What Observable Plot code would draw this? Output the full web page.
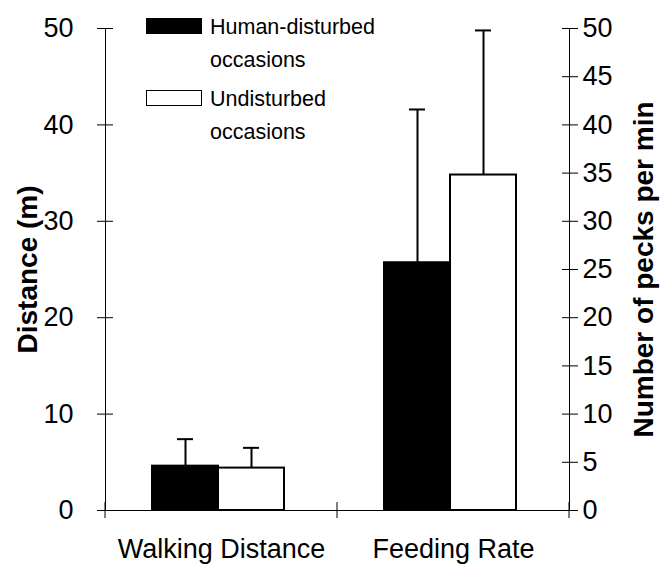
<!DOCTYPE html>
<html>
<head>
<meta charset="utf-8">
<script src="https://cdn.jsdelivr.net/npm/d3@7"></script>
<script src="https://cdn.jsdelivr.net/npm/@observablehq/plot@0.6"></script>
<style>
  html, body { margin: 0; padding: 0; background: #fff; }
  #wrap { position: relative; width: 667px; height: 565px; font-family: "Liberation Sans", Arial, sans-serif; }
  .legend { position: absolute; left: 146px; top: 11px; color: #000; font-size: 21.5px; line-height: 33px; }
  .item { display: flex; align-items: flex-start; margin-bottom: 6px; }
  .sw { width: 56px; height: 16px; margin-top: 7px; margin-right: 8px; box-sizing: border-box; border: 1.5px solid #000; }
</style>
</head>
<body>
<div id="wrap"></div>
<script>
const groups = ["Walking Distance", "Feeding Rate"];
const seriesNames = ["Human-disturbed occasions", "Undisturbed occasions"];
const seriesColors = ["#000000", "#ffffff"];
const humanMeans = [4.6, 25.7];
const humanUpper = [7.4, 41.6];
const undisturbedMeans = [4.4, 34.8];
const undisturbedUpper = [6.5, 49.8];
const leftTicks = [0, 10, 20, 30, 40, 50];
const rightTicks = [0, 5, 10, 15, 20, 25, 30, 35, 40, 45, 50];
const leftLabel = "Distance (m)";
const rightLabel = "Number of pecks per min";

const rows = [];
groups.forEach((g, i) => {
  rows.push({group: g, series: seriesNames[0], mean: humanMeans[i], upper: humanUpper[i]});
  rows.push({group: g, series: seriesNames[1], mean: undisturbedMeans[i], upper: undisturbedUpper[i]});
});

const font = "Liberation Sans, Arial, sans-serif";
const plot = Plot.plot({
  width: 667,
  height: 565,
  marginLeft: 104,
  marginRight: 98,
  marginTop: 28,
  marginBottom: 55,
  style: {fontFamily: font, fontSize: "27px", color: "#000", background: "#fff", overflow: "visible"},
  fx: {domain: groups, padding: 0, label: null},
  x: {domain: seriesNames, paddingInner: 0, paddingOuter: 0.735, align: 0.47, axis: null},
  y: {domain: [0, 50], label: null},
  color: {domain: seriesNames, range: seriesColors},
  marks: [
    Plot.axisFx({anchor: "bottom", tickSize: 0, tickPadding: 28, label: null, fontSize: 27}),
    Plot.axisY({anchor: "left", ticks: leftTicks, tickSize: 16, insetLeft: 8, tickPadding: 24, label: null, fontSize: 27, stroke: "#000"}),
    Plot.axisY({anchor: "left", ticks: [], tickSize: 0, label: leftLabel, labelArrow: "none", labelAnchor: "center", labelOffset: 88, fontSize: 28, fontWeight: "bold"}),
    Plot.axisY({anchor: "right", ticks: rightTicks, tickSize: 16, insetRight: 8, tickPadding: 5, label: null, fontSize: 27, stroke: "#000"}),
    Plot.axisY({anchor: "right", ticks: [], tickSize: 0, label: rightLabel, labelArrow: "none", labelAnchor: "center", labelOffset: 83, fontSize: 28, fontWeight: "bold"}),
    Plot.frame({anchor: "left", facetAnchor: "left", stroke: "#000"}),
    Plot.frame({anchor: "right", facetAnchor: "right", stroke: "#000"}),
    Plot.ruleY([0], {stroke: "#000"}),
    Plot.ruleX(rows, {fx: "group", x: "series", y1: "mean", y2: "upper", stroke: "#000", strokeWidth: 2}),
    Plot.tickY(rows, {fx: "group", x: "series", y: "upper", stroke: "#000", strokeWidth: 2, insetLeft: 25, insetRight: 25}),
    Plot.barY(rows, {fx: "group", x: "series", y: "mean", fill: "series", stroke: "#000", strokeWidth: 2})
  ]
});

// cross ticks on the x axis at the group boundaries, placed from Plot's own scales
const fx = plot.scale("fx");
const ys = plot.scale("y");
const svg = d3.select(plot.tagName.toLowerCase() === "svg" ? plot : plot.querySelector("svg"));
const y0 = ys.apply(0);
const bounds = fx.domain.map(d => fx.apply(d)).concat([fx.apply(fx.domain[fx.domain.length - 1]) + fx.bandwidth]);
svg.append("g").attr("aria-label", "x-axis boundary ticks")
  .selectAll("line").data(bounds).join("line")
  .attr("x1", d => d).attr("x2", d => d)
  .attr("y1", y0 - 8).attr("y2", y0 + 8)
  .attr("stroke", "#000").attr("stroke-width", 1);

const wrap = document.getElementById("wrap");
wrap.appendChild(plot);

const legend = document.createElement("div");
legend.className = "legend";
seriesNames.forEach((name, i) => {
  const item = document.createElement("div");
  item.className = "item";
  const sw = document.createElement("div");
  sw.className = "sw";
  sw.style.background = seriesColors[i];
  const label = document.createElement("div");
  label.innerHTML = name.replace(" ", "<br>");
  item.appendChild(sw);
  item.appendChild(label);
  legend.appendChild(item);
});
wrap.appendChild(legend);
</script>
</body>
</html>
